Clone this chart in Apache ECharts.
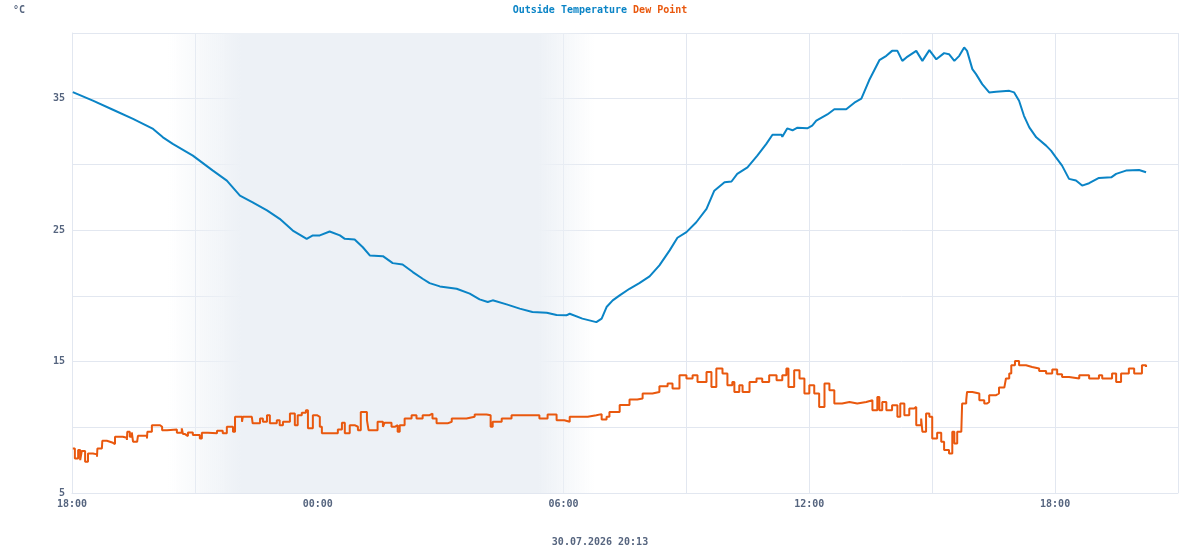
<!DOCTYPE html>
<html>
<head>
<meta charset="utf-8">
<script src="https://cdn.jsdelivr.net/npm/echarts@6/dist/echarts.min.js"></script>
<style>
  html, body { margin: 0; padding: 0; background: #fff; }
  #chart { width: 1200px; height: 550px; }
</style>
</head>
<body>
<div id="chart"></div>
<script>
// hours after 18:00 (29.07) for each reading
var tempHours = [0.02,0.51,1.00,1.49,1.98,2.22,2.46,2.95,3.44,3.78,4.10,4.41,4.76,5.07,5.39,5.73,5.88,6.05,6.29,6.54,
  6.66,6.90,7.10,7.27,7.59,7.83,8.07,8.32,8.56,8.73,8.98,9.39,9.71,9.95,10.15,10.27,10.61,10.93,11.24,11.59,
  11.83,12.07,12.15,12.46,12.80,12.93,13.05,13.20,13.37,13.61,13.85,14.10,14.34,14.59,14.78,15.00,15.24,15.49,15.68,15.93,
  16.10,16.24,16.49,16.73,16.95,17.10,17.32,17.34,17.46,17.59,17.71,17.95,18.07,18.17,18.44,18.61,18.90,19.10,19.27,19.46,
  19.71,19.88,20.02,20.15,20.27,20.37,20.61,20.76,20.93,21.10,21.29,21.41,21.54,21.66,21.78,21.85,21.98,22.07,22.22,22.39,
  22.56,22.88,23.00,23.12,23.24,23.37,23.54,23.78,23.90,24.02,24.17,24.34,24.51,24.66,24.83,25.07,25.37,25.49,25.73,26.05,26.22];
var tempValues = [35.5,34.85,34.16,33.46,32.7,32.06,31.56,30.67,29.53,28.77,27.63,27.12,26.5,25.86,24.97,24.34,24.6,24.6,24.9,24.6,
  24.34,24.29,23.7,23.08,23.02,22.49,22.39,21.81,21.3,20.97,20.72,20.54,20.17,19.73,19.53,19.66,19.35,19.03,18.77,18.72,
  18.54,18.52,18.64,18.27,18.0,18.27,19.15,19.66,20.04,20.54,20.97,21.48,22.32,23.46,24.42,24.85,25.6,26.62,28.0,28.65,
  28.7,29.28,29.78,30.67,31.56,32.26,32.26,32.1,32.74,32.6,32.8,32.75,32.95,33.33,33.8,34.2,34.2,34.7,35.0,36.4,
  37.93,38.26,38.64,38.64,37.88,38.14,38.64,37.88,38.7,38.0,38.47,38.39,37.88,38.26,38.9,38.64,37.25,36.87,36.11,35.48,
  35.53,35.6,35.48,34.85,33.7,32.82,32.06,31.43,31.05,30.54,29.91,28.9,28.77,28.39,28.57,28.97,29.02,29.28,29.53,29.58,29.4];

var dewHours = [0.02,0.07,0.15,0.20,0.24,0.32,0.39,0.51,0.61,0.62,0.73,0.74,0.85,1.00,1.05,1.24,1.34,1.35,1.41,1.46,
  1.49,1.59,1.61,1.83,1.84,1.95,2.15,2.20,2.32,2.56,2.68,2.71,2.76,2.83,2.95,3.12,3.17,3.32,3.54,3.68,
  3.78,3.93,3.98,4.15,4.17,4.39,4.41,4.59,4.66,4.76,4.83,5.00,5.07,5.15,5.32,5.44,5.51,5.61,5.71,5.76,
  5.88,5.98,6.05,6.10,6.41,6.49,6.59,6.66,6.78,6.90,6.98,7.05,7.15,7.20,7.24,7.34,7.46,7.59,7.63,7.80,
  7.88,7.95,8.00,8.12,8.29,8.41,8.56,8.73,8.80,8.90,9.05,9.17,9.27,9.46,9.63,9.83,10.12,10.22,10.27,10.49,
  10.73,10.93,11.17,11.41,11.61,11.83,12.02,12.15,12.39,12.59,12.80,12.93,13.05,13.12,13.24,13.37,13.61,13.80,13.93,14.17,
  14.34,14.54,14.66,14.83,15.00,15.15,15.27,15.49,15.61,15.73,15.88,16.00,16.12,16.17,16.29,16.37,16.54,16.71,16.85,17.02,
  17.20,17.34,17.44,17.49,17.63,17.76,17.88,18.00,18.12,18.24,18.37,18.49,18.61,18.80,18.98,19.17,19.39,19.54,19.66,19.71,
  19.78,19.88,20.02,20.15,20.22,20.32,20.44,20.56,20.61,20.73,20.76,20.85,20.93,21.00,21.12,21.22,21.29,21.41,21.49,21.54,
  21.61,21.71,21.73,21.83,21.85,21.98,22.15,22.27,22.34,22.39,22.56,22.63,22.76,22.80,22.88,22.93,23.02,23.12,23.29,23.44,
  23.61,23.78,23.93,24.05,24.17,24.34,24.59,24.83,25.07,25.15,25.39,25.49,25.61,25.80,25.93,26.05,26.12,26.22];
var dewValues = [8.39,7.63,8.27,7.5,8.2,7.38,8.0,7.94,7.76,8.39,8.32,8.97,8.82,8.72,9.28,9.2,9.03,9.66,9.28,9.61,
  8.9,8.77,9.35,9.15,9.66,10.16,10.04,9.78,9.84,9.58,9.92,9.48,9.33,9.61,9.41,9.15,9.58,9.54,9.73,9.54,
  10.04,9.66,10.8,10.42,10.8,10.8,10.3,10.67,10.42,10.92,10.3,10.54,10.16,10.42,11.05,10.16,10.92,11.1,11.3,9.92,
  10.92,10.8,10.04,9.54,9.54,9.84,10.34,9.54,10.16,10.04,9.78,11.17,11.17,10.54,9.78,9.78,10.42,10.04,10.34,10.04,
  10.16,9.66,10.16,10.67,10.92,10.67,10.92,11.05,10.67,10.3,10.3,10.42,10.67,10.67,10.8,10.98,10.92,10.04,10.42,10.67,
  10.92,10.92,10.92,10.67,10.98,10.54,10.42,10.8,10.8,10.92,11.0,10.6,10.8,11.17,11.17,11.7,12.12,12.19,12.57,12.69,
  13.13,13.33,12.95,13.96,13.71,13.96,13.45,14.21,13.07,14.47,14.09,13.2,13.45,12.69,13.2,12.69,13.45,13.71,13.45,13.96,
  13.58,13.96,14.47,13.07,14.34,13.71,12.57,13.2,12.57,11.55,13.33,12.82,11.81,11.93,11.81,11.93,12.06,11.3,12.31,11.3,
  11.93,11.3,11.68,10.8,11.81,10.92,11.43,11.55,10.16,10.67,9.66,11.05,10.8,9.15,9.58,8.9,8.27,8.01,9.66,8.77,
  9.66,9.78,11.81,12.06,12.69,12.57,12.06,11.81,11.93,12.44,12.57,13.02,13.07,13.71,14.09,14.72,15.05,14.72,14.59,14.47,
  14.29,14.09,14.39,14.04,13.83,13.71,13.96,13.71,13.96,13.71,14.09,13.45,14.09,14.47,14.09,14.09,14.72,14.59];

// night shading (hours after 18:00)
var nightStart = 2.35;
var nightEnd = 12.75;

var tempColor = '#0a84c6';
var dewColor = '#e9580e';
var textColor = '#56657f';
var gridColor = '#e2e7f0';
var font = '"DejaVu Sans Mono", "Liberation Mono", monospace';

function pairs(xs, ys) {
  return xs.map(function (x, i) { return [x, ys[i]]; });
}

var chart = echarts.init(document.getElementById('chart'));
chart.setOption({
  animation: false,
  textStyle: { fontFamily: font },
  title: [{
    text: '°C', left: 8, top: 0,
    textStyle: { fontSize: 10, fontWeight: 'bold', color: textColor, fontFamily: font }
  }, {
    text: '30.07.2026 20:13', left: 'center', top: 532,
    textStyle: { fontSize: 10, fontWeight: 'bold', color: textColor, fontFamily: font }
  }],
  legend: {
    top: 0, left: 'center', itemGap: 6, itemWidth: 0, itemHeight: 0,
    icon: 'rect', selectedMode: false,
    textStyle: { fontSize: 10, fontWeight: 'bold', fontFamily: font, padding: [0, 0, 0, -5] },
    data: [
      { name: 'Outside Temperature', textStyle: { color: tempColor } },
      { name: 'Dew Point', textStyle: { color: dewColor } }
    ]
  },
  grid: { left: 72, right: 22, top: 33, bottom: 57 },
  xAxis: {
    type: 'value', min: 0, max: 27, interval: 3,
    axisLine: { show: true, lineStyle: { color: gridColor } },
    axisTick: { show: false },
    splitLine: { show: true, lineStyle: { color: gridColor } },
    axisLabel: {
      color: textColor, fontSize: 10, fontWeight: 'bold', fontFamily: font, margin: 6,
      formatter: function (v) {
        if (v % 6 !== 0 || v >= 27) return '';
        var h = (18 + v) % 24;
        return (h < 10 ? '0' : '') + h + ':00';
      }
    }
  },
  yAxis: {
    type: 'value', min: 5, max: 40, interval: 5,
    axisLine: { show: true, lineStyle: { color: gridColor } },
    axisTick: { show: false },
    splitLine: { show: true, lineStyle: { color: gridColor } },
    axisLabel: {
      color: textColor, fontSize: 10, fontWeight: 'bold', fontFamily: font, margin: 7,
      formatter: function (v) { return v % 10 === 5 && v < 40 ? String(v) : ''; }
    }
  },
  series: [{
    name: 'Outside Temperature', type: 'line', showSymbol: false,
    data: pairs(tempHours, tempValues),
    lineStyle: { color: tempColor, width: 2 },
    itemStyle: { color: tempColor },
    z: 3,
    markArea: {
      silent: true,
      itemStyle: {
        color: new echarts.graphic.LinearGradient(0, 0, 1, 0, [
          { offset: 0, color: 'rgba(237,241,246,0)' },
          { offset: 0.17, color: 'rgba(237,241,246,1)' },
          { offset: 0.87, color: 'rgba(237,241,246,1)' },
          { offset: 1, color: 'rgba(237,241,246,0)' }
        ])
      },
      data: [[{ xAxis: nightStart }, { xAxis: nightEnd }]]
    }
  }, {
    name: 'Dew Point', type: 'line', showSymbol: false, step: 'end',
    data: pairs(dewHours, dewValues),
    lineStyle: { color: dewColor, width: 2 },
    itemStyle: { color: dewColor },
    z: 3
  }]
});
</script>
</body>
</html>
